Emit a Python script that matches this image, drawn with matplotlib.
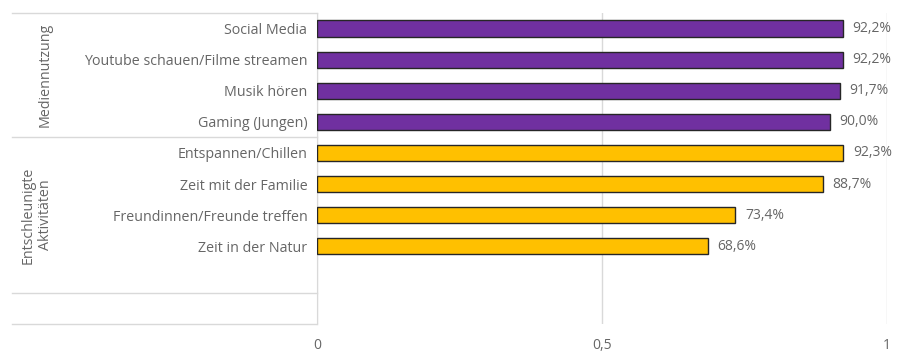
import matplotlib.pyplot as plt
import matplotlib.transforms as mtransforms

# data
categories = ['Social Media', 'Youtube schauen/Filme streamen', 'Musik hören',
              'Gaming (Jungen)', 'Entspannen/Chillen', 'Zeit mit der Familie',
              'Freundinnen/Freunde treffen', 'Zeit in der Natur']
values = [0.922, 0.922, 0.917, 0.900, 0.923, 0.887, 0.734, 0.686]
groups = ['Mediennutzung', 'Entschleunigte\nAktivitäten']
group_sizes = [4, 4]
group_colors = ['#7030A0', '#FFC000']
xticks = [0, 0.5, 1]
xtick_labels = ['0', '0,5', '1']

plt.rcParams['font.family'] = ['Open Sans', 'DejaVu Sans']
text_col = '#666666'
line_col = '#D9D9D9'
fs = 10

fig = plt.figure(figsize=(8.97, 3.54), dpi=100)
ax = fig.add_axes([317 / 897, 1 - 324 / 354, 570 / 897, 311 / 354])

colors = []
for c, n in zip(group_colors, group_sizes):
    colors += [c] * n

n_slots = len(categories) + 2
ypos = list(range(len(categories)))
ax.barh(ypos, values, height=0.52, color=colors, edgecolor='#262626', linewidth=1.0, zorder=3)

for y, v in zip(ypos, values):
    ax.annotate(f'{v * 100:.1f}%'.replace('.', ','), (v, y), xytext=(7, 0),
                textcoords='offset points', va='center', ha='left',
                fontsize=fs, color=text_col)

ax.set_xlim(0, 1)
ax.set_ylim(n_slots - 0.5, -0.5)
ax.set_yticks(ypos)
ax.set_yticklabels(categories, fontsize=10.3, color=text_col)
ax.set_xticks(xticks)
ax.set_xticklabels(xtick_labels, fontsize=fs, color=text_col)
ax.tick_params(axis='y', length=0, pad=7)
ax.tick_params(axis='x', length=0, pad=10)

for s in ['top', 'right', 'bottom']:
    ax.spines[s].set_visible(False)
ax.spines['left'].set_color(line_col)
ax.xaxis.grid(True, color=line_col, linewidth=1.0, zorder=0)
ax.set_axisbelow(True)

# group table lines and labels on the left
trans = mtransforms.blended_transform_factory(ax.transAxes, ax.transData)
x_left = (12 - 317) / 570
bounds = [-0.5]
for n in group_sizes:
    bounds.append(bounds[-1] + n)
bounds[-1] += 1
bounds.append(n_slots - 0.5)
for b in bounds:
    ax.plot([x_left, 0], [b, b], transform=trans, color=line_col, linewidth=1.0, clip_on=False)

label_x = [(45 - 317) / 570, (37 - 317) / 570]
for g, lx, lo, hi in zip(groups, label_x, bounds[:-2], bounds[1:-1]):
    ax.text(lx, (lo + hi) / 2, g, transform=trans, rotation=90, ha='center', va='center',
            fontsize=10.3, color=text_col, linespacing=1.25)

fig.savefig('out.png', dpi=100)
